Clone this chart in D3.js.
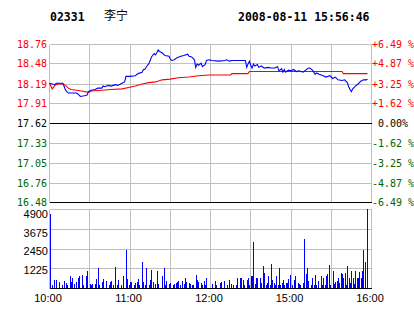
<!DOCTYPE html>
<html>
<head>
<meta charset="utf-8">
<script src="https://cdn.jsdelivr.net/npm/d3@7.9.0/dist/d3.min.js"></script>
<style>
  html, body { margin: 0; padding: 0; background: #fff; }
  svg { display: block; }
  .mono { font-family: "DejaVu Sans Mono", "Liberation Mono", monospace; font-size: 10px; white-space: pre; }
  .sans { font-family: "Liberation Sans", Arial, sans-serif; font-size: 11px; }
  .head { font-family: "DejaVu Sans Mono", "Liberation Mono", monospace; font-size: 11.5px; font-weight: bold; }
  .cjk { font-family: "Noto Sans CJK SC", sans-serif; font-size: 12px; }
</style>
</head>
<body>
<svg id="chart" width="414" height="314"></svg>
<script>
// header
const stockCode = '02331';
const stockName = '李宁';
const stamp = '2008-08-11 15:56:46';

// axis labels
const priceTicks = [18.76, 18.48, 18.19, 17.91, 17.62, 17.33, 17.05, 16.76, 16.48];
const pctLabels = ['+6.49 %', '+4.87 %', '+3.25 %', '+1.62 %', ' 0.00%', '-1.62 %', '-3.25 %', '-4.87 %', '-6.49 %'];
const prevClose = 17.62;
const volTicks = [4900, 3675, 2450, 1225];
const timeTicks = [0, 60, 120, 180, 240];   // trading minutes since 10:00 (lunch removed)
const timeLabels = ['10:00', '11:00', '12:00', '15:00', '16:00'];

// last price (blue)
const priceMin = [0, 4, 5, 10, 11, 12, 14, 20, 21, 23, 26, 28, 29, 31, 34, 36, 39, 40, 41, 44,
  46, 49, 51, 54, 56, 57, 60, 64, 66, 69, 70, 71, 73, 74, 75, 76, 78, 79, 80, 81,
  82, 84, 86, 89, 90, 91, 93, 95, 98, 100, 103, 104, 106, 108, 109, 110, 111, 113, 114, 116,
  117, 119, 121, 126, 131, 132, 134, 136, 141, 146, 147, 148, 149, 150, 151, 152, 153, 155, 156, 158,
  160, 163, 165, 168, 170, 171, 173, 174, 175, 176, 178, 180, 182, 184, 186, 189, 191, 193, 194, 196,
  198, 199, 201, 204, 206, 209, 211, 213, 215, 218, 220, 222, 223, 224, 225, 226, 228, 230, 232, 234,
  236, 237];
const price = [18.20, 18.18, 18.20, 18.20, 18.15, 18.10, 18.06, 18.06, 18.05, 18.01, 18.02, 18.03, 18.08, 18.10, 18.11, 18.13, 18.13, 18.16, 18.15, 18.17,
  18.16, 18.18, 18.17, 18.20, 18.22, 18.30, 18.30, 18.31, 18.34, 18.36, 18.40, 18.40, 18.46, 18.48, 18.53, 18.58, 18.63, 18.61, 18.64, 18.68,
  18.66, 18.64, 18.60, 18.59, 18.55, 18.53, 18.54, 18.57, 18.59, 18.60, 18.62, 18.59, 18.58, 18.54, 18.43, 18.48, 18.46, 18.49, 18.44, 18.47,
  18.53, 18.54, 18.53, 18.52, 18.53, 18.54, 18.52, 18.53, 18.53, 18.53, 18.43, 18.48, 18.52, 18.46, 18.42, 18.48, 18.45, 18.47, 18.43, 18.45,
  18.42, 18.43, 18.42, 18.42, 18.44, 18.38, 18.41, 18.36, 18.40, 18.36, 18.39, 18.38, 18.40, 18.37, 18.38, 18.36, 18.39, 18.42, 18.42, 18.39,
  18.33, 18.35, 18.33, 18.31, 18.29, 18.31, 18.27, 18.29, 18.25, 18.24, 18.25, 18.21, 18.15, 18.11, 18.08, 18.12, 18.16, 18.19, 18.23, 18.25,
  18.25, 18.26];

// average price (red)
const avgMin = [0, 2, 4, 6, 10, 12, 14, 16, 20, 24, 29, 31, 39, 46, 54, 59, 64, 69, 74, 79,
  84, 90, 96, 104, 111, 119, 135, 136, 148, 149, 218, 219, 237];
const avgPrice = [18.20, 18.12, 18.17, 18.19, 18.19, 18.17, 18.13, 18.11, 18.10, 18.09, 18.07, 18.09, 18.10, 18.11, 18.12, 18.14, 18.16, 18.19, 18.21, 18.22,
  18.25, 18.26, 18.28, 18.29, 18.31, 18.32, 18.32, 18.34, 18.34, 18.37, 18.37, 18.34, 18.34];

// volume per minute
const volMin = [0, 2, 3, 5, 7, 9, 11, 12, 13, 15, 16, 17, 18, 20, 21, 22, 24, 25, 27, 28,
  30, 31, 32, 34, 35, 36, 37, 39, 40, 42, 44, 45, 46, 47, 49, 50, 51, 53, 55, 57,
  58, 59, 60, 61, 63, 64, 65, 66, 67, 69, 70, 71, 72, 74, 75, 76, 77, 79, 80, 81,
  84, 85, 86, 87, 89, 90, 92, 93, 94, 95, 96, 97, 99, 100, 101, 102, 104, 105, 106, 107,
  109, 110, 111, 113, 114, 115, 116, 117, 121, 123, 124, 127, 128, 130, 132, 134, 135, 137, 139, 140,
  142, 143, 144, 145, 147, 148, 149, 150, 151, 152, 153, 154, 155, 157, 158, 159, 160, 161, 162, 163,
  164, 165, 166, 167, 168, 169, 170, 171, 172, 173, 174, 175, 176, 177, 178, 179, 181, 182, 183, 185,
  186, 187, 189, 190, 191, 192, 193, 195, 196, 197, 198, 199, 200, 202, 203, 204, 205, 206, 207, 208,
  209, 211, 212, 213, 214, 215, 216, 217, 218, 219, 220, 221, 222, 223, 224, 225, 226, 227, 228, 229,
  230, 231, 232, 233, 234, 235, 237];
const volume = [4590, 186, 496, 496, 351, 205, 434, 300, 186, 744, 350, 620, 250, 400, 600, 744, 830, 200, 744, 1030,
  250, 186, 275, 250, 560, 1240, 186, 350, 560, 434, 186, 350, 434, 200, 1300, 186, 496, 200, 770, 2356,
  560, 200, 350, 350, 186, 300, 350, 560, 186, 1600, 350, 186, 1240, 186, 496, 1140, 400, 250, 1060, 250,
  744, 1240, 186, 434, 250, 300, 186, 250, 300, 400, 434, 200, 434, 250, 600, 400, 300, 250, 186, 200,
  830, 496, 350, 300, 186, 434, 200, 620, 250, 434, 200, 300, 350, 434, 186, 496, 250, 200, 186, 620,
  620, 620, 496, 186, 496, 620, 200, 744, 770, 2872, 250, 620, 600, 620, 300, 1385, 920, 200, 300, 744,
  200, 1488, 496, 300, 186, 720, 200, 1240, 186, 300, 496, 200, 300, 300, 530, 830, 200, 496, 770, 300,
  250, 186, 300, 3038, 868, 1240, 434, 186, 600, 186, 830, 186, 434, 744, 200, 620, 186, 744, 868, 1426,
  200, 1075, 250, 350, 434, 600, 300, 900, 868, 620, 900, 186, 1385, 600, 300, 1030, 600, 250, 1030, 620,
  600, 1000, 600, 1075, 2356, 1600, 4900];

const red = '#ff0000', green = '#006400', blue = '#0000ff', gridColor = '#c0c0c0';

let svg = d3.select('#chart');

let x = d3.scaleLinear().domain([0, 240]).range([49.5, 371.5]);
let y = d3.scaleLinear().domain([16.48, 18.76]).range([202.5, 44.5]);
let yVol = d3.scaleLinear().domain([0, 4900]).range([288.5, 209.5]);
let yVolLabel = d3.scaleLinear().domain([0, 4900]).range([288, 214]);

let px = (v) => Math.floor(v) + 0.5;
let py = (v) => Math.round(v - 0.5) + 0.5;
let labelColor = (v) => v > prevClose ? red : (v < prevClose ? green : '#000');

// header
svg.append('text').attr('class', 'head').attr('x', 50).attr('y', 21).text(stockCode);
svg.append('text').attr('class', 'cjk').attr('x', 104).attr('y', 20).text(stockName);
svg.append('text').attr('class', 'head').attr('x', 238).attr('y', 21).text(stamp);

// vertical grid (both panels)
let gridTimes = d3.range(30, 240, 30);
let grid = svg.append('g').attr('stroke', gridColor).attr('shape-rendering', 'crispEdges');
gridTimes.forEach((t) => {
  grid.append('line').attr('x1', px(x(t))).attr('x2', px(x(t))).attr('y1', py(y(18.76))).attr('y2', py(y(16.48)));
  grid.append('line').attr('x1', px(x(t))).attr('x2', px(x(t))).attr('y1', py(yVol(4900))).attr('y2', py(yVol(0)));
});
// horizontal grid
priceTicks.forEach((p) => {
  grid.append('line').attr('x1', px(x(0))).attr('x2', px(x(240))).attr('y1', py(y(p))).attr('y2', py(y(p)));
});
volTicks.forEach((v) => {
  grid.append('line').attr('x1', px(x(0))).attr('x2', px(x(240))).attr('y1', py(yVol(v))).attr('y2', py(yVol(v)));
});
// panel side borders
[0, 240].forEach((t) => {
  grid.append('line').attr('x1', px(x(t))).attr('x2', px(x(t))).attr('y1', py(y(18.76))).attr('y2', py(y(16.48)));
  grid.append('line').attr('x1', px(x(t))).attr('x2', px(x(t))).attr('y1', py(yVol(4900))).attr('y2', py(yVol(0)));
});

// black base lines
let base = svg.append('g').attr('stroke', '#000').attr('shape-rendering', 'crispEdges');
[py(y(prevClose)), py(y(16.48)), py(yVol(0))].forEach((yy) => {
  base.append('line').attr('x1', px(x(0))).attr('x2', px(x(240)) + 0.5).attr('y1', yy).attr('y2', yy);
});

// volume bars
svg.append('g').attr('fill', blue).attr('shape-rendering', 'crispEdges')
  .selectAll('rect')
  .data(volMin.map((m, i) => ({ m: m, v: Math.min(volume[i], 4900) })))
  .join('rect')
  .attr('x', (d) => Math.round(x(d.m)))
  .attr('width', 1)
  .attr('y', (d) => Math.round(yVol(d.v) - 0.5))
  .attr('height', (d) => Math.round(yVol(0) - 0.5) - Math.round(yVol(d.v) - 0.5));

// average and price lines
let lineGen = d3.line().x((d) => x(d[0])).y((d) => y(d[1]));
svg.append('path')
  .attr('d', lineGen(avgMin.map((m, i) => [m, avgPrice[i]])))
  .attr('fill', 'none').attr('stroke', red).attr('stroke-width', 1.1);
svg.append('path')
  .attr('d', lineGen(priceMin.map((m, i) => [m, price[i]])))
  .attr('fill', 'none').attr('stroke', blue).attr('stroke-width', 1.1);

// left price labels
priceTicks.forEach((p) => {
  svg.append('text').attr('class', 'mono')
    .attr('x', 47).attr('y', py(y(p)) + 3.5)
    .attr('text-anchor', 'end')
    .attr('fill', labelColor(p))
    .text(p.toFixed(2));
});
// right percent labels
pctLabels.forEach((lab, i) => {
  svg.append('text').attr('class', 'mono')
    .attr('x', 372).attr('y', py(y(priceTicks[i])) + 3.5)
    .attr('fill', labelColor(priceTicks[i]))
    .text(lab);
});
// volume labels
volTicks.forEach((v) => {
  svg.append('text').attr('class', 'sans')
    .attr('x', 48).attr('y', yVolLabel(v) + 4)
    .attr('text-anchor', 'end')
    .text(v);
});
// time labels
timeTicks.forEach((t, i) => {
  svg.append('text').attr('class', 'sans')
    .attr('x', x(t) - 1.5).attr('y', 302)
    .attr('text-anchor', 'middle')
    .text(timeLabels[i]);
});
</script>
</body>
</html>
